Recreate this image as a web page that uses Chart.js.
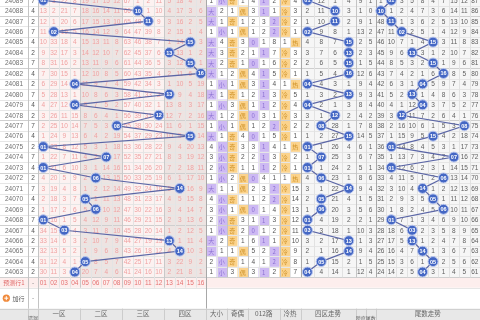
<!DOCTYPE html>
<html>
<head>
<meta charset="utf-8">
<script src="https://cdn.jsdelivr.net/npm/chart.js@4"></script>
<style>
  html, body { margin: 0; padding: 0; background: #fff; overflow: hidden; }
  #wrap { width: 480px; height: 320px; }
</style>
</head>
<body>
<div id="wrap"><canvas id="trendChart" width="480" height="320"></canvas></div>
<script>
// 期号（新→旧，从上往下）
const issues = ['24089','24088','24087','24086','24085','24084','24083','24082','24081','24080',
  '24079','24078','24077','24076','24075','24074','24073','24072','24071','24070',
  '24069','24068','24067','24066','24065','24064','24063'];
const weekdays = [7,4,2,7,4,2,7,4,2,7,4,2,7,4,2,7,4,2,7,4,2,7,4,2,7,4,2];
const blueBalls = [1,10,11,2,15,13,15,16,4,13,4,12,8,15,1,7,1,6,14,5,6,1,3,13,14,5,4];
const hotCold = [0,0,0,0,1,0,0,0,1,0,0,0,0,0,1,0,0,1,0,0,0,0,0,0,0,0,0]; // 0=冷 1=热

// 最底部一期(24063)的遗漏值，往上逐期累加
const numBase = [30,11,3,0,20,7,4,6,41,24,16,10,2,21,8,1];
const bigSmallBase = [1,0];
const oddEvenBase = [3,0];
const roadBase = [3,0,2];
const hotColdBase = [0,7];
const zoneBase = [0,4,14,1];
const tailBase = [24,14,2,5,0,3,1,4,5,61];
const prevBall = 16; // 24062期

const zoneNames = ['一区','二区','三区','四区'];
const bigSmallMarks = ['大','小'];
const oddEvenMarks = ['奇','偶'];
const roadMarks = ['0','1','2'];
const hotColdMarks = ['冷','热'];
const predictRow = ['01','02','03','04','05','06','07','08','09','10','11','12','13','14','15','16'];

// 列布局（单位 = 一个窄列宽）
const L = {
  week: 2.67, num: 3.62, attr: 19.62, zone: 28.62, zoneW: 1.3125,
  span: 33.87, spanW: 0.95, tail: 35.77, tailW: 0.994, end: 45.71
};
const ROWS = issues.length;
const PURPLE = '#cdb9f3', ORANGE = '#fbd38d';

function buildOmission(cols, base, hitOf) {
  const grid = [];
  const last = ROWS - 1;
  for (let r = last; r >= 0; r--) {
    grid[r] = [];
    for (let c = 0; c < cols; c++) {
      if (hitOf(r) === c) grid[r][c] = 0;
      else if (r === last) grid[r][c] = base[c];
      else grid[r][c] = grid[r + 1][c] + 1;
    }
  }
  return grid;
}

const zoneOf = r => Math.ceil(blueBalls[r] / 4) - 1;
const tailOf = r => blueBalls[r] % 10;

const numGrid = buildOmission(16, numBase, r => blueBalls[r] - 1);
const attrGroups = [
  { start: 0, marks: bigSmallMarks, color: PURPLE, ink: '#8a6fd2', grid: buildOmission(2, bigSmallBase, r => blueBalls[r] >= 9 ? 0 : 1) },
  { start: 2, marks: oddEvenMarks, color: ORANGE, ink: '#cf9226', grid: buildOmission(2, oddEvenBase, r => blueBalls[r] % 2 ? 0 : 1) },
  { start: 4, marks: roadMarks, color: PURPLE, ink: '#8a6fd2', grid: buildOmission(3, roadBase, r => blueBalls[r] % 3) },
  { start: 7, marks: hotColdMarks, color: ORANGE, ink: '#cf9226', grid: buildOmission(2, hotColdBase, r => hotCold[r]) }
];
const zoneGrid = buildOmission(4, zoneBase, zoneOf);
const tailGrid = buildOmission(10, tailBase, tailOf);
const spanA = blueBalls.map((b, r) => Math.abs(b - (r === ROWS - 1 ? prevBall : blueBalls[r + 1])));
const spanB = blueBalls.map(b => b % 10);

const pad = n => String(n).padStart(2, '0');
const NUM_FONT = '"Liberation Sans", Arial, sans-serif';
const CJK_FONT = '"Noto Sans CJK SC", sans-serif';

const tablePlugin = {
  id: 'trendTable',
  beforeDatasetsDraw(chart) {
    const ctx = chart.ctx;
    const X = u => chart.scales.x.getPixelForValue(u);
    const Y = r => chart.scales.y.getPixelForValue(r);
    const box = (u0, u1, r0, r1, color) => {
      ctx.fillStyle = color;
      ctx.fillRect(X(u0), Y(r0), X(u1) - X(u0), Y(r1) - Y(r0));
    };
    const vline = (u, r0, r1, color) => {
      const x = Math.round(X(u)) + 0.5;
      ctx.strokeStyle = color; ctx.lineWidth = 1;
      ctx.beginPath(); ctx.moveTo(x, Y(r0)); ctx.lineTo(x, Y(r1)); ctx.stroke();
    };
    const hline = (r, u0, u1, color) => {
      const y = Math.round(Y(r)) + 0.5;
      ctx.strokeStyle = color; ctx.lineWidth = 1;
      ctx.beginPath(); ctx.moveTo(X(u0), y); ctx.lineTo(X(u1), y); ctx.stroke();
    };
    const label = (str, u, r, color, size, cjk) => {
      ctx.font = size + 'px ' + (cjk ? CJK_FONT : NUM_FONT);
      ctx.fillStyle = color;
      ctx.textAlign = 'center';
      ctx.textBaseline = 'middle';
      ctx.fillText(str, X(u), Y(r) + 0.5);
    };

    ctx.save();
    box(0, L.end, -1, 32, '#ffffff');

    // 区块底色
    for (let z = 0; z < 4; z++) {
      box(L.num + 4 * z, L.num + 4 * z + 4, -0.5, ROWS - 0.5, z % 2 ? '#ede4e2' : '#fcf2f1');
    }
    box(L.zone, L.end, -0.5, ROWS - 0.5, '#f6f6f6');

    // 属性命中格
    for (let r = 0; r < ROWS; r++) {
      attrGroups.forEach(g => {
        g.grid[r].forEach((v, c) => {
          if (v === 0) box(L.attr + g.start + c, L.attr + g.start + c + 1, r - 0.5, r + 0.5, g.color);
        });
      });
    }

    // 预测行 + 表头
    box(0, L.end, ROWS - 0.5, ROWS + 0.5, '#fdeeed');
    box(0, L.end, ROWS + 2.5, 32, '#e8e8e8');

    // 横线
    for (let r = -0.5; r <= ROWS + 0.5; r++) {
      const strong = (r + 0.5) % 5 === 2 || r === ROWS - 0.5;
      hline(r, 0, L.end, strong ? '#cfcfcf' : '#e6e6e6');
    }
    hline(ROWS + 2.5, 0, L.end, '#d0d0d0');

    // 竖线（数据行）
    const top = -0.5, bottom = ROWS + 0.5;
    for (let c = 1; c < 16; c++) vline(L.num + c, top, bottom, c % 4 === 0 ? '#c9c9c9' : '#e4e4e4');
    for (let c = 1; c < 9; c++) vline(L.attr + c, top, ROWS - 0.5, [2, 4, 7].includes(c) ? '#c4c4c4' : '#e4e4e4');
    for (let c = 1; c < 4; c++) vline(L.zone + c * L.zoneW, top, ROWS - 0.5, '#e2e2e2');
    vline(L.span + L.spanW, top, ROWS - 0.5, '#dadada');
    for (let c = 1; c < 10; c++) vline(L.tail + c * L.tailW, top, ROWS - 0.5, '#e2e2e2');
    [L.week, L.num].forEach(u => vline(u, top, ROWS + 2.5, '#c4c4c4'));
    vline(L.attr, top, ROWS + 2.5, '#a8a8a8');
    [L.zone, L.tail].forEach(u => vline(u, top, ROWS - 0.5, '#a8a8a8'));
    vline(L.span, top, ROWS - 0.5, '#c4c4c4');

    // 表头竖线
    [L.week, L.num, L.num + 4, L.num + 8, L.num + 12, L.attr, L.attr + 2, L.attr + 4, L.attr + 7,
     L.zone, L.span, L.span + L.spanW, L.tail].forEach(u => vline(u, ROWS + 2.5, 32, '#cccccc'));

    // 数据文字
    for (let r = 0; r < ROWS; r++) {
      label(issues[r], L.week / 2, r, '#707070', 6.5);
      label(String(weekdays[r]), (L.week + L.num) / 2, r, '#555', 6.5);
      numGrid[r].forEach((v, c) => {
        if (v) label(String(v), L.num + c + 0.5, r, '#f0a2a2', 6.5);
      });
      attrGroups.forEach(g => {
        g.grid[r].forEach((v, c) => {
          const u = L.attr + g.start + c + 0.5;
          if (v) label(String(v), u, r, '#555', 6.5);
          else label(g.marks[c], u, r, g.ink, 6, true);
        });
      });
      zoneGrid[r].forEach((v, c) => {
        if (v) label(String(v), L.zone + (c + 0.5) * L.zoneW, r, '#606060', 6.5);
      });
      label(String(spanA[r]), L.span + L.spanW / 2, r, '#606060', 6.5);
      label(String(spanB[r]), L.span + L.spanW * 1.5, r, '#606060', 6.5);
      tailGrid[r].forEach((v, c) => {
        if (v) label(String(v), L.tail + (c + 0.5) * L.tailW, r, '#606060', 6.5);
      });
    }

    // 预测行
    label('预测行1', L.week / 2, ROWS, '#e06a6a', 6, true);
    label('-', (L.week + L.num) / 2, ROWS, '#888', 6.5);
    predictRow.forEach((t, c) => label(t, L.num + c + 0.5, ROWS, '#e57373', 6.5));

    // 加行
    const ix = X(0.6), iy = Y(ROWS + 1.5);
    ctx.fillStyle = '#f08a3c';
    ctx.beginPath(); ctx.arc(ix, iy, 3.6, 0, Math.PI * 2); ctx.fill();
    ctx.strokeStyle = '#fff'; ctx.lineWidth = 1;
    ctx.beginPath(); ctx.moveTo(ix - 2, iy); ctx.lineTo(ix + 2, iy); ctx.moveTo(ix, iy - 2); ctx.lineTo(ix, iy + 2); ctx.stroke();
    label('加行', 1.75, ROWS + 1.5, '#555', 6, true);
    label('-', (L.week + L.num) / 2, ROWS + 1.5, '#888', 6.5);

    // 表头
    const hr = ROWS + 2.88;
    zoneNames.forEach((t, z) => label(t, L.num + 4 * z + 2, hr, '#666', 6.5, true));
    attrGroups.forEach((g, i) => {
      const name = ['大小', '奇偶', '012路', '冷热'][i];
      label(name, L.attr + g.start + g.marks.length / 2, hr, '#666', 6.5, true);
    });
    label('四区走势', (L.zone + L.span) / 2, hr, '#666', 6.5, true);
    label('跨度', L.span + L.spanW / 2, hr + 0.45, '#666', 5, true);
    label('尾数', L.span + L.spanW * 1.5, hr + 0.45, '#666', 5, true);
    label('尾数走势', (L.tail + L.end) / 2, hr, '#666', 6.5, true);
    label('遗漏', (L.week + L.num) / 2, hr + 0.45, '#666', 5, true);
    ctx.restore();
  },
  afterDatasetsDraw(chart) {
    const ctx = chart.ctx;
    ctx.save();
    ctx.font = 'bold 5.5px ' + NUM_FONT;
    ctx.fillStyle = '#ffffff';
    ctx.textAlign = 'center';
    ctx.textBaseline = 'middle';
    chart.data.datasets.forEach((ds, i) => {
      chart.getDatasetMeta(i).data.forEach((pt, r) => {
        ctx.fillText(pad(blueBalls[r]), pt.x, pt.y + 0.5);
      });
    });
    ctx.restore();
  }
};

const lineStyle = {
  borderColor: '#5b66a6',
  borderWidth: 1.2,
  pointRadius: 5,
  pointBackgroundColor: '#4467c4',
  pointBorderColor: '#b9c6ee',
  pointBorderWidth: 1,
  tension: 0
};

new Chart(document.getElementById('trendChart'), {
  type: 'line',
  data: {
    datasets: [
      { label: '蓝球', data: blueBalls.map((b, r) => ({ x: L.num + b - 0.5, y: r })), ...lineStyle },
      { label: '四区走势', data: blueBalls.map((b, r) => ({ x: L.zone + (zoneOf(r) + 0.5) * L.zoneW, y: r })), ...lineStyle },
      { label: '尾数走势', data: blueBalls.map((b, r) => ({ x: L.tail + (tailOf(r) + 0.5) * L.tailW, y: r })), ...lineStyle }
    ]
  },
  options: {
    responsive: false,
    animation: false,
    devicePixelRatio: 1,
    layout: { padding: 0, autoPadding: false },
    plugins: { legend: { display: false }, tooltip: { enabled: false } },
    scales: {
      x: { type: 'linear', min: 0, max: L.end, display: false },
      y: { type: 'linear', min: -0.03, max: 30.59, reverse: true, display: false }
    }
  },
  plugins: [tablePlugin]
});
</script>
</body>
</html>
